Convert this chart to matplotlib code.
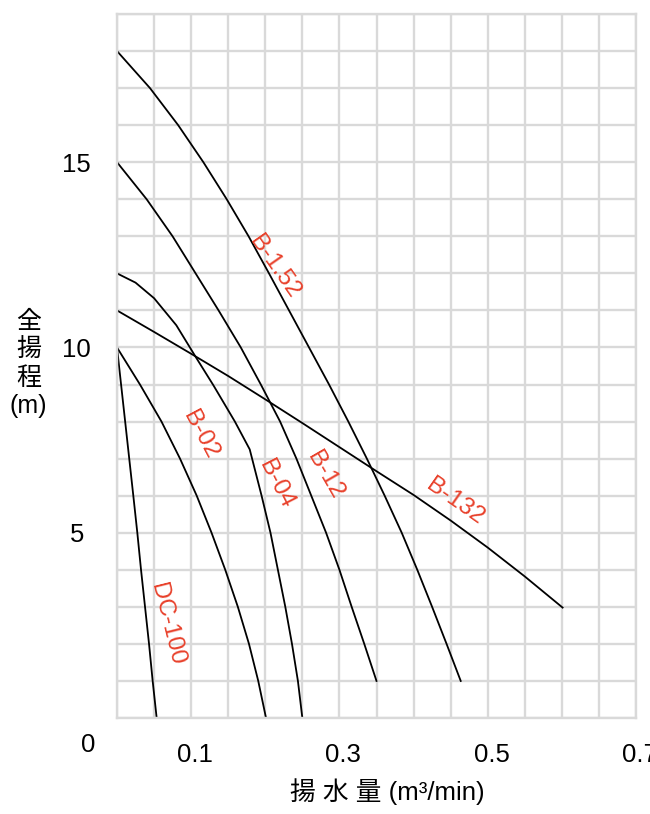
import matplotlib
matplotlib.use('Agg')
import matplotlib.pyplot as plt
from matplotlib.ticker import MultipleLocator
from matplotlib.transforms import ScaledTranslation

plt.rcParams['font.family'] = ['Liberation Sans', 'Noto Sans CJK JP', 'DejaVu Sans']

# flow q (m3/min) and total head h (m)
dc100_q = [0, 0.0055, 0.011, 0.0165, 0.022, 0.0274, 0.0324, 0.0378, 0.0432, 0.0481, 0.0535]
dc100_h = [10, 9, 8, 7, 6, 5, 4, 3, 2, 1, 0]

b02_q = [0, 0.031, 0.060, 0.085, 0.1075, 0.1275, 0.146, 0.163, 0.178, 0.1905, 0.201]
b02_h = [10, 9, 8, 7, 6, 5, 4, 3, 2, 1, 0]

b04_q = [0, 0.025, 0.05, 0.08, 0.1066, 0.13, 0.159, 0.179, 0.195, 0.207, 0.217, 0.227, 0.236, 0.244, 0.25]
b04_h = [12, 11.75, 11.33, 10.6, 9.73, 8.98, 8, 7.25, 6, 5, 4, 3, 2, 1, 0]

b12_q = [0, 0.040, 0.075, 0.106, 0.137, 0.167, 0.194, 0.220, 0.242, 0.262, 0.282, 0.300, 0.3165, 0.3335, 0.35]
b12_h = [15, 14, 13, 12, 11, 10, 9, 8, 7, 6, 5, 4, 3, 2, 1]

b152_q = [0, 0.0445, 0.0825, 0.1165, 0.148, 0.1775, 0.205, 0.232, 0.259, 0.286, 0.312, 0.337,
          0.361, 0.384, 0.405, 0.425, 0.4445, 0.4636]
b152_h = [18, 17, 16, 15, 14, 13, 12, 11, 10, 9, 8, 7, 6, 5, 4, 3, 2, 1]

b132_q = [0, 0.05, 0.1, 0.15, 0.2, 0.25, 0.3, 0.35, 0.4, 0.45, 0.5, 0.55, 0.601]
b132_h = [11, 10.42, 9.83, 9.23, 8.6, 7.96, 7.31, 6.66, 6.02, 5.33, 4.6, 3.82, 2.98]

x_ticks = [0.1, 0.3, 0.5, 0.7]
y_ticks = [5, 10, 15]

curves = [
    ('DC-100', dc100_q, dc100_h),
    ('B-02', b02_q, b02_h),
    ('B-04', b04_q, b04_h),
    ('B-12', b12_q, b12_h),
    ('B-1.52', b152_q, b152_h),
    ('B-132', b132_q, b132_h),
]

# where each curve name sits (data coords) and its angle
label_place = {
    'DC-100': (0.0674, 2.54, -76),
    'B-02': (0.112, 7.63, -62),
    'B-04': (0.214, 6.32, -63),
    'B-12': (0.2806, 6.56, -60),
    'B-1.52': (0.2118, 12.17, -55),
    'B-132': (0.456, 5.83, -35),
}

RED = '#e8402a'
GRID = '#d9d9d9'

fig = plt.figure(figsize=(6.5, 8.14), dpi=100)
ax = fig.add_axes([117 / 650, 96 / 814, 519 / 650, 704 / 814])

for name, q, h in curves:
    ax.plot(q, h, color='black', lw=1.3, solid_joinstyle='round')
    lx, ly, rot = label_place[name]
    ax.text(lx, ly, name, color=RED, fontsize=17.5, rotation=rot,
            rotation_mode='anchor', ha='center', va='center')

ax.set_xlim(0, 0.7)
ax.set_ylim(0, 19)

ax.xaxis.set_minor_locator(MultipleLocator(0.05))
ax.yaxis.set_minor_locator(MultipleLocator(1))
ax.set_xticks(x_ticks)
ax.set_xticklabels([f'{v:g}' for v in x_ticks])
ax.set_yticks(y_ticks)
ax.set_yticklabels([str(v) for v in y_ticks])
ax.grid(which='both', color=GRID, lw=1.7)
ax.set_axisbelow(True)

ax.tick_params(which='both', length=0)
ax.tick_params(axis='x', labelsize=18.5, pad=18)
ax.tick_params(axis='y', labelsize=18.5, pad=29)
for lab in ax.get_yticklabels():
    lab.set_horizontalalignment('center')
shift = ScaledTranslation(4 / 100, 0, fig.dpi_scale_trans)
for lab in ax.get_xticklabels():
    lab.set_transform(lab.get_transform() + shift)

for sp in ax.spines.values():
    sp.set_color(GRID)
    sp.set_linewidth(1.7)

# origin label sits off the corner
ax.annotate('0', xy=(0, 0), xytext=(-29, -27), textcoords='offset pixels',
            ha='center', va='center', fontsize=18.5)

fig.text(387 / 650, 1 - 792 / 814, '揚 水 量 (m³/min)', ha='center', va='center', fontsize=18.5)
fig.text(28.5 / 650, 1 - 364 / 814, '全\n揚\n程\n(m)', ha='center', va='center',
         fontsize=18, linespacing=1.2)

fig.savefig('out.png', dpi=100)
